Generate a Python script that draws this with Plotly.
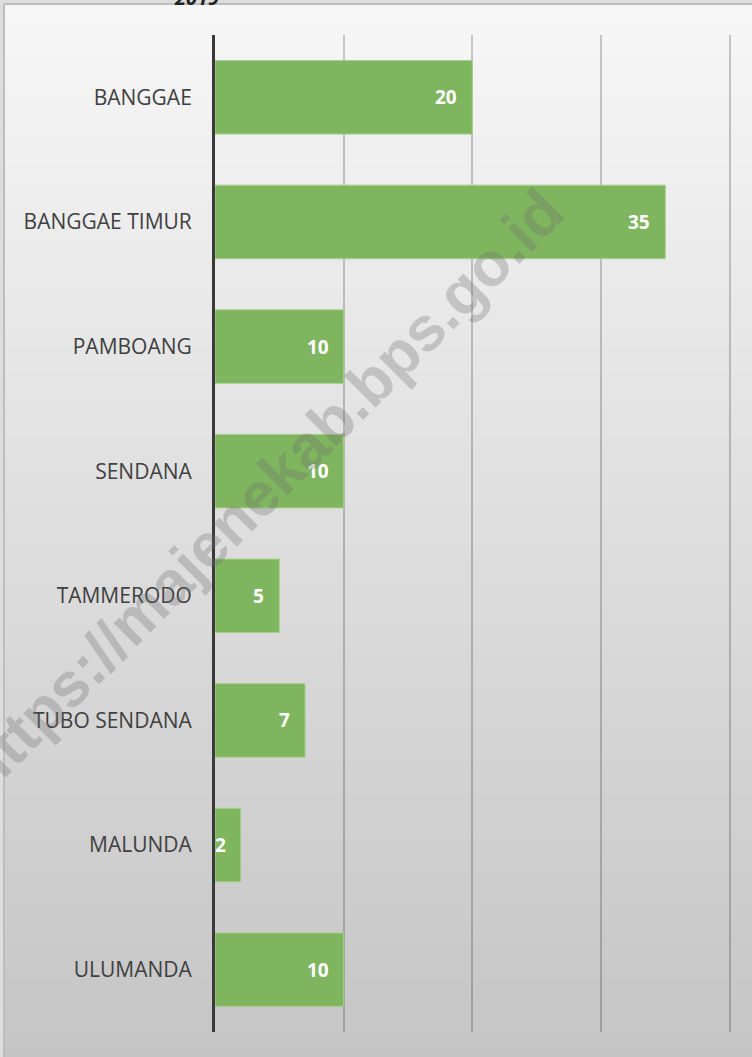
import plotly.graph_objects as go

categories = ["BANGGAE", "BANGGAE TIMUR", "PAMBOANG", "SENDANA", "TAMMERODO",
              "TUBO SENDANA", "MALUNDA", "ULUMANDA"]
values = [20, 35, 10, 10, 5, 7, 2, 10]
x_ticks = [0, 10, 20, 30, 40]
title_text = "2019"
watermark = "https://majenekab.bps.go.id"

W, H = 752, 1057
XMAX = 40.1
L, T, B = 215, 35, 25
pw = round(515 * XMAX / 40)
R = W - L - pw
ph = H - T - B

def px_x(px):
    return (px - L) / pw

def px_y(py):
    return (H - B - py) / ph

fig = go.Figure()
fig.add_trace(go.Bar(
    y=categories, x=values, orientation="h", width=0.59,
    marker=dict(color="#7fb55f", line=dict(color="#a8d08d", width=1)),
    hoverinfo="skip",
))

shapes = []
# vertical gradient background
n = 80
top_c = (247, 247, 247)
bot_c = (197, 197, 197)
for i in range(n):
    y0 = 4 + (H - 4) * i / n
    y1 = 4 + (H - 4) * (i + 1) / n + 1
    t = (i + 0.5) / n
    c = tuple(round(top_c[k] + (bot_c[k] - top_c[k]) * t) for k in range(3))
    shapes.append(dict(type="rect", xref="paper", yref="paper", layer="below",
                       x0=px_x(4), x1=px_x(W + 10), y0=px_y(y1), y1=px_y(y0),
                       line=dict(width=0), fillcolor="rgb(%d,%d,%d)" % c))
# border
shapes.append(dict(type="line", xref="paper", yref="paper", layer="above",
                   x0=px_x(4), x1=px_x(W + 10), y0=px_y(4), y1=px_y(4),
                   line=dict(color="#bdbdbd", width=2)))
shapes.append(dict(type="line", xref="paper", yref="paper", layer="above",
                   x0=px_x(4), x1=px_x(4), y0=px_y(4), y1=px_y(H + 10),
                   line=dict(color="#bdbdbd", width=2)))

annotations = []
for c, v in zip(categories, values):
    annotations.append(dict(x=v, y=c, xref="x", yref="y", text="<b>%d</b>" % v,
                            showarrow=False, xanchor="right", xshift=-13,
                            font=dict(family="Open Sans", size=19, color="white")))
annotations.append(dict(x=px_x(196), y=px_y(13), xref="paper", yref="paper",
                        text="<b><i>%s</i></b>" % title_text, showarrow=False,
                        xanchor="center", yanchor="bottom",
                        font=dict(family="Open Sans", size=20, color="#222222")))
annotations.append(dict(x=px_x(262), y=px_y(490), xref="paper", yref="paper",
                        text="<b>%s</b>" % watermark, showarrow=False, textangle=-45,
                        xanchor="center", yanchor="middle",
                        font=dict(family="Liberation Sans", size=62,
                                  color="rgba(110,110,110,0.30)")))

fig.update_layout(
    width=W, height=H,
    margin=dict(l=L, r=R, t=T, b=B, pad=0),
    paper_bgcolor="#dddddd", plot_bgcolor="rgba(0,0,0,0)",
    showlegend=False, shapes=shapes, annotations=annotations,
    xaxis=dict(range=[0, XMAX], tickvals=x_ticks, showticklabels=False,
               showgrid=True, gridcolor="rgba(0,0,0,0.2)", gridwidth=1.5,
               zeroline=False, showline=False, fixedrange=True),
    yaxis=dict(categoryorder="array", categoryarray=categories, autorange="reversed",
               showline=True, linecolor="#3a3a3a", linewidth=3,
               showgrid=False, ticks="", ticklabelstandoff=16,
               tickfont=dict(family="Open Sans", size=21, color="#404040"),
               fixedrange=True),
)

fig.write_html("out.html", config={"displayModeBar": False},
               post_script="document.body.style.margin='0';document.body.style.overflow='hidden';")
